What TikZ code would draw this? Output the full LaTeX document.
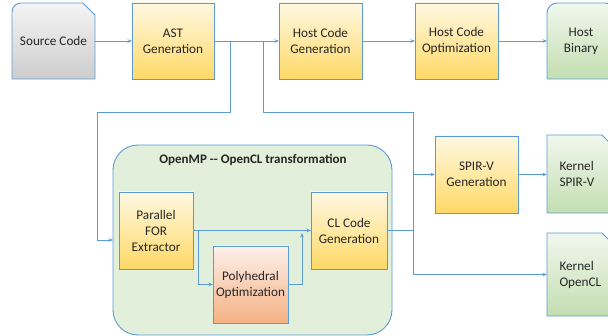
\documentclass[tikz,border=0pt]{standalone}
\usepackage{fontspec}
\setmainfont{Carlito}
\usetikzlibrary{arrows.meta}

\definecolor{edge}{HTML}{5B9BD5}
\definecolor{yelTop}{HTML}{FFF8E2}
\definecolor{yelBot}{HTML}{FFD966}
\definecolor{grnTop}{HTML}{F1F7ED}
\definecolor{grnBot}{HTML}{C3DEB1}
\definecolor{gryTop}{HTML}{F4F4F4}
\definecolor{gryBot}{HTML}{CDCDCD}
\definecolor{orgTop}{HTML}{FDF0EA}
\definecolor{orgBot}{HTML}{F4B183}
\definecolor{ompFill}{HTML}{E2EFDA}
\definecolor{ink}{HTML}{262626}

\newcommand{\boxfont}{\fontsize{13.2}{16}\selectfont}

\tikzset{
  conn/.style={draw=edge, line width=0.9pt},
  arr/.style={conn, -{Stealth[length=4.5pt,width=3.5pt]}},
  boxsize/.style 2 args={minimum width=#1, minimum height=#2},
  plain/.style={inner sep=0pt, outer sep=0pt, align=center, font=\boxfont, text=ink},
  yellowbox/.style={plain, draw=edge, line width=0.9pt, top color=yelTop, bottom color=yelBot},
  orangebox/.style={plain, draw=edge, line width=0.9pt, top color=orgTop, bottom color=orgBot},
  outline/.style={draw=edge, line width=0.9pt},
  kerneltext/.style={plain, align=left, inner xsep=12.5pt, text width=42pt, minimum height=78pt},
}

\begin{document}
\begin{tikzpicture}[x=1pt, y=-1pt]
\useasboundingbox (0,0) rectangle (608,336);

% ---- outlines of the shaped boxes ----
\shade[outline, top color=gryTop, bottom color=gryBot]
  (12,79) -- (12,12) .. controls (12,7) and (16,3) .. (21,3) -- (83,3) -- (95,15) -- (95,79) -- cycle;
\shade[outline, top color=grnTop, bottom color=grnBot]
  (547,79) -- (547,13) .. controls (547,7.5) and (551.5,3) .. (557,3) -- (605,3)
  .. controls (610.5,3) and (615,7.5) .. (615,13) -- (615,79) -- cycle;
\shade[outline, top color=grnTop, bottom color=grnBot]
  (547,213) -- (547,135) -- (602,135) -- (614,147) -- (614,213) -- cycle;
\shade[outline, top color=grnTop, bottom color=grnBot]
  (547,316) -- (547,233) -- (602,233) -- (614,245) -- (614,316) -- cycle;

% ---- top row ----
\node[plain, boxsize={83pt}{76pt}] (src) at (53.5,41) {Source Code};
\node[yellowbox, boxsize={82pt}{76pt}] (ast) at (173,41) {AST\\Generation};
\node[yellowbox, boxsize={83pt}{76pt}] (hgen) at (320.5,41) {Host Code\\Generation};
\node[yellowbox, boxsize={83pt}{76pt}] (hopt) at (456.5,41) {Host Code\\Optimization};
\node[plain, boxsize={68pt}{76pt}] (hbin) at (581,41) {Host\\Binary};

% ---- OpenMP to OpenCL transformation block ----
\node[plain, draw=edge, line width=0.9pt, fill=ompFill, rounded corners=25pt,
      boxsize={279pt}{190pt}] (omp) at (252.5,240) {};
\node[text=ink, font=\fontsize{13}{15}\selectfont\bfseries] (omptitle) at (253,160) {OpenMP -{}- OpenCL transformation};
\node[yellowbox, boxsize={74pt}{77pt}] (pfe) at (156,230.5) {Parallel\\FOR\\Extractor};
\node[yellowbox, boxsize={76pt}{77pt}] (cl) at (349,230.5) {CL Code\\Generation};
\node[orangebox, boxsize={75pt}{77pt}] (poly) at (250.5,284.5) {Polyhedral\\Optimization};

% ---- kernel side ----
\node[yellowbox, boxsize={83pt}{77pt}] (spir) at (476.5,174.5) {SPIR-V\\Generation};
\node[kerneltext] (kspir) at (580.5,174) {Kernel\\SPIR-V};
\node[kerneltext, minimum height=83pt] (kocl) at (580.5,274.5) {Kernel\\OpenCL};

% ---- junction points ----
\coordinate (ja) at (230,41);
\coordinate (jb) at (263,41);
\coordinate (ta) at (97,112);
\coordinate (sp) at (413,112);
\coordinate (pb) at (198,230.5);
\coordinate (pe) at (302,233);

% ---- connectors ----
\draw[arr] (src.east) -- (ast.west);
\draw[arr] (ast.east) -- (hgen.west);
\draw[arr] (hgen.east) -- (hopt.west);
\draw[arr] (hopt.east) -- (547,41);
\draw[arr] (ja) |- (ta) |- (omp.west);
\draw[arr] (jb) |- (sp) -- (sp |- kocl.west) -- (547,274.5);
\draw[arr] (sp |- spir.west) -- (spir.west);
\draw[arr] (spir.east) -- (547,174.5);
\draw[conn] (cl.east) -- (sp |- cl.east);
\draw[arr] (pfe.east) -- (cl.west);
\draw[arr] (pb) |- (poly.west);
\draw[arr] (poly.east) -| (pe);
\end{tikzpicture}
\end{document}
